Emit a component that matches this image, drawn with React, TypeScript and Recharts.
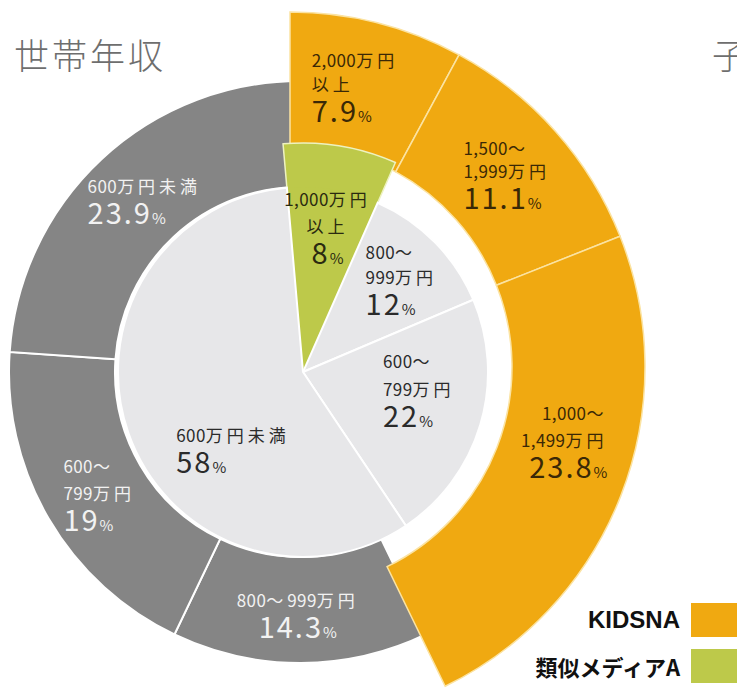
import React from 'react';
import { PieChart, Pie, Cell } from 'recharts';

// ---------- data ----------
const chartTitle = '世帯年収';
const nextTitleFragment = '子';

// outer ring (clockwise from 12 o'clock)
const outerCategories = ['2,000万円以上', '1,500～1,999万円', '1,000～1,499万円', '800～999万円', '600～799万円', '600万円未満'];
const outerValues = [7.9, 11.1, 23.8, 14.3, 19, 23.9];
const outerLabelLines = [['2,000万円', '以上'], ['1,500～', '1,999万円'], ['1,000～', '1,499万円'], ['800～999万円'], ['600～', '799万円'], ['600万円未満']];
const outerIsKidsna = [true, true, true, false, false, false];

// inner pie (clockwise from 12 o'clock)
const innerCategories = ['1,000万円以上', '800～999万円', '600～799万円', '600万円未満'];
const innerValues = [8, 12, 22, 58];
const innerLabelLines = [['1,000万円', '以上'], ['800～', '999万円'], ['600～', '799万円'], ['600万円未満']];
const innerIsMediaA = [true, false, false, false];

const legendLabels = ['KIDSNA', '類似メディアA'];

// ---------- styles / layout ----------
const ORANGE = '#F0A911';
const GREEN = '#BDC94A';
const GRAY = '#858585';
const LIGHT = '#E7E7E9';
const FONT = '"Noto Sans CJK JP", "Noto Sans", sans-serif';
const RAD = Math.PI / 180;

type LabelPos = { r: number; dx: number; dy: number; anchor: 'start' | 'middle' | 'end'; step?: number };
const outerOrangeLayout: LabelPos[] = [
  { r: 288, dx: -49, dy: 34, anchor: 'start', step: 24 },
  { r: 288, dx: -42, dy: 33, anchor: 'start', step: 23 },
  { r: 288, dx: 49, dy: 7, anchor: 'end', step: 27 },
];
const outerGrayLayout: Record<number, LabelPos> = {
  3: { r: 238, dx: -3, dy: 28, anchor: 'middle' },
  4: { r: 238, dx: -31, dy: 39, anchor: 'start', step: 27 },
  5: { r: 238, dx: -50, dy: 26, anchor: 'start' },
};
const innerLayout: LabelPos[] = [
  { r: 150, dx: 0, dy: 40, anchor: 'middle', step: 27 },
  { r: 137, dx: -35, dy: 39, anchor: 'start', step: 25 },
  { r: 120, dx: -35, dy: 21, anchor: 'start', step: 28 },
  { r: 110, dx: -23, dy: 64, anchor: 'start' },
];

const isWide = (ch: string) => /[\u3000-\u9fff\uff00-\uffef]/.test(ch);
function splitRuns(text: string) {
  const out: { t: string; w: boolean }[] = [];
  for (const ch of text) {
    const w = isWide(ch);
    if (out.length && out[out.length - 1].w === w) out[out.length - 1].t += ch;
    else out.push({ t: ch, w });
  }
  return out;
}

function labelBlock(x: number, y: number, L: LabelPos, lines: string[], value: number, color: string, key: string) {
  const catSize = 17;
  const numSize = 29;
  const stepToValue = 31;
  const stepCat = L.step ?? 26;
  const n = lines.length;
  const firstY = y - stepToValue - (n - 1) * stepCat;
  const parts: React.ReactNode[] = [];
  lines.forEach((ln, i) => {
    splitRuns(ln).forEach((r, j) => {
      const pos = j === 0 ? { x, y: firstY + i * stepCat } : {};
      parts.push(
        <tspan key={`${i}-${j}`} {...pos} fontSize={catSize} letterSpacing={r.w ? 4 : 0.4}>
          {r.t}
        </tspan>
      );
    });
  });
  parts.push(
    <tspan key="num" x={x} y={y} fontSize={numSize} letterSpacing={2}>
      {String(value)}
    </tspan>
  );
  parts.push(
    <tspan key="pct" fontSize={15}>
      %
    </tspan>
  );
  return (
    <text key={key} textAnchor={L.anchor} fill={color} fontFamily={FONT}>
      {parts}
    </text>
  );
}

function polar(cx: number, cy: number, r: number, midAngle: number) {
  return { x: cx + r * Math.cos(-midAngle * RAD), y: cy + r * Math.sin(-midAngle * RAD) };
}

const renderOrangeLabel = (p: any) => {
  const { cx, cy, midAngle, index } = p;
  if (!outerIsKidsna[index]) return null;
  const L = outerOrangeLayout[index];
  const pt = polar(cx, cy, L.r, midAngle);
  return labelBlock(pt.x + L.dx, pt.y + L.dy, L, outerLabelLines[index], outerValues[index], '#3A2806', 'o' + index);
};
const renderGrayLabel = (p: any) => {
  const { cx, cy, midAngle, index } = p;
  if (outerIsKidsna[index]) return null;
  const L = outerGrayLayout[index];
  const pt = polar(cx, cy, L.r, midAngle);
  return labelBlock(pt.x + L.dx, pt.y + L.dy, L, outerLabelLines[index], outerValues[index], '#F2F2F2', 'g' + index);
};
const renderInnerLabel = (p: any) => {
  const { cx, cy, midAngle, index } = p;
  const L = innerLayout[index];
  const pt = polar(cx, cy, L.r, midAngle);
  return labelBlock(pt.x + L.dx, pt.y + L.dy, L, innerLabelLines[index], innerValues[index], innerIsMediaA[index] ? '#2A2A10' : '#2B2B2B', 'i' + index);
};

const outerData = outerCategories.map((name, i) => ({ name, value: outerValues[i] }));
const innerData = innerCategories.map((name, i) => ({ name, value: innerValues[i] }));

export default function App() {
  return (
    <div style={{ position: 'absolute', left: 0, top: 0, width: 737, height: 694, background: '#fff', overflow: 'hidden' }}>
      <PieChart width={737} height={694} margin={{ top: 0, right: 0, bottom: 0, left: 0 }}>
        {/* gray ring: other (non-KIDSNA) part */}
        <Pie
          data={outerData}
          dataKey="value"
          nameKey="name"
          cx={300}
          cy={372}
          innerRadius={185}
          outerRadius={291}
          startAngle={90}
          endAngle={-270}
          isAnimationActive={false}
          labelLine={false}
          label={renderGrayLabel}
        >
          {outerData.map((d, i) => (
            <Cell key={i} fill={outerIsKidsna[i] ? 'none' : GRAY} stroke={outerIsKidsna[i] ? 'none' : '#FFFFFF'} strokeWidth={2} />
          ))}
        </Pie>
        {/* orange ring: KIDSNA, pulled out */}
        <Pie
          data={outerData}
          dataKey="value"
          nameKey="name"
          cx={290}
          cy={367}
          innerRadius={222}
          outerRadius={355}
          startAngle={90}
          endAngle={-270}
          isAnimationActive={false}
          labelLine={false}
          label={renderOrangeLabel}
        >
          {outerData.map((d, i) => (
            <Cell key={i} fill={outerIsKidsna[i] ? ORANGE : 'none'} stroke={outerIsKidsna[i] ? '#FBE3A2' : 'none'} strokeWidth={1.5} />
          ))}
        </Pie>
        {/* green wedge, pulled out */}
        <Pie
          data={innerData}
          dataKey="value"
          nameKey="name"
          cx={303}
          cy={372}
          innerRadius={0}
          outerRadius={229}
          startAngle={95}
          endAngle={-265}
          isAnimationActive={false}
          labelLine={false}
        >
          {innerData.map((d, i) => (
            <Cell key={i} fill={innerIsMediaA[i] ? GREEN : 'none'} stroke={innerIsMediaA[i] ? '#EEF2C0' : 'none'} strokeWidth={1.5} />
          ))}
        </Pie>
        {/* inner light pie */}
        <Pie
          data={innerData}
          dataKey="value"
          nameKey="name"
          cx={303}
          cy={372}
          innerRadius={0}
          outerRadius={185}
          startAngle={95}
          endAngle={-265}
          isAnimationActive={false}
          labelLine={false}
          label={renderInnerLabel}
        >
          {innerData.map((d, i) => (
            <Cell key={i} fill={innerIsMediaA[i] ? GREEN : LIGHT} stroke={innerIsMediaA[i] ? 'none' : '#FFFFFF'} strokeWidth={2} />
          ))}
        </Pie>
      </PieChart>

      <div style={{ position: 'absolute', left: 14, top: 36, fontFamily: FONT, fontSize: 35, color: '#6E6E6E', letterSpacing: 3, fontWeight: 300, lineHeight: 1 }}>
        {chartTitle}
      </div>
      <div style={{ position: 'absolute', left: 712, top: 36, fontFamily: FONT, fontSize: 35, color: '#6E6E6E', fontWeight: 300, lineHeight: 1, whiteSpace: 'nowrap' }}>
        {nextTitleFragment}
      </div>

      {legendLabels.map((lab, i) => (
        <div key={lab} style={{ position: 'absolute', right: 0, top: 603 + i * 46, height: 34, display: 'flex', alignItems: 'center' }}>
          <span style={{ fontFamily: i === 0 ? '"Liberation Sans", Arial, sans-serif' : FONT, fontWeight: 700, fontSize: i === 0 ? 24 : 22, color: '#111', marginRight: 11 }}>
            {lab}
          </span>
          <span style={{ display: 'inline-block', width: 46, height: 34, background: i === 0 ? ORANGE : GREEN }} />
        </div>
      ))}
    </div>
  );
}
